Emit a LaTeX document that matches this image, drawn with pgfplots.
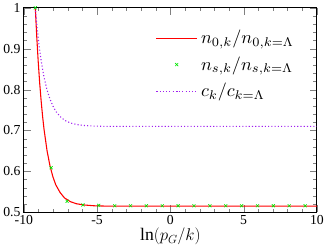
\documentclass[border=0pt]{standalone}
\usepackage{fontspec}
\setmainfont{Liberation Serif}
\usepackage{pgfplots}
\pgfplotsset{compat=1.18}
\definecolor{myviolet}{RGB}{160,32,240}
\definecolor{mygreen}{RGB}{0,230,0}
\begin{document}
\begin{tikzpicture}
\begin{axis}[
  scale only axis,
  width=298bp, height=208bp,
  xmin=-10, xmax=10, ymin=0.5, ymax=1,
  xtick={-10,-5,0,5,10},
  xticklabels={-10,-5,0,5,10},
  ytick={0.5,0.6,0.7,0.8,0.9,1},
  yticklabels={0.5,0.6,0.7,0.8,0.9,1},
  minor x tick num=4,
  minor y tick num=4,
  tick align=inside,
  major tick length=7bp,
  minor tick length=3.5bp,
  axis line style={line width=0.8pt},
  every tick label/.append style={font=\fontsize{14}{16}\selectfont},
  xlabel={$\ln(p_G/k)$},
  xlabel style={font=\fontsize{18}{20}\selectfont, yshift=4pt},
  legend style={at={(axis cs:-1.2,0.96)}, anchor=north west, draw=white, fill=none,
    row sep=3pt, nodes={scale=1.85, transform shape=false}},
  legend cell align=left,
  legend image code/.code={\draw[mark repeat=2,mark phase=2,#1] plot coordinates {(0cm,0cm) (0.725cm,0cm) (1.45cm,0cm)};},
]
\addplot[color=red, line width=1.1pt, mark=none] coordinates {
(-9.22,1.0) (-9.12,0.929) (-9.02,0.868) (-8.92,0.816) (-8.82,0.772) (-8.72,0.734)
(-8.62,0.702) (-8.42,0.651) (-8.22,0.614) (-8.02,0.587) (-7.82,0.567) (-7.52,0.548)
(-7.22,0.535) (-6.82,0.526) (-6.42,0.521) (-5.92,0.518) (-5.22,0.516) (-4.22,0.515) (10,0.515)
};
\addlegendentry{$n_{0,k}/n_{0,k=\Lambda}$}
\addplot[only marks, color=mygreen, mark=x, mark size=2.2pt, mark options={line width=0.6pt}] coordinates {
(-9.22,1.0) (-8.14,0.609) (-7.05,0.527) (-5.97,0.518) (-4.89,0.517) (-3.8,0.516)
(-2.72,0.516) (-1.64,0.516) (-0.55,0.516) (0.53,0.516) (1.61,0.516) (2.7,0.516)
(3.78,0.516) (4.86,0.516) (5.95,0.516) (7.03,0.516) (8.11,0.516) (9.2,0.516)
};
\addlegendentry{$n_{s,k}/n_{s,k=\Lambda}$}
\addplot[color=myviolet, line width=1.1pt, dash pattern=on 1.1pt off 2.2pt, mark=none] coordinates {
(-9.22,1.0) (-9.12,0.960) (-9.02,0.926) (-8.92,0.896) (-8.82,0.871) (-8.72,0.849)
(-8.62,0.830) (-8.42,0.799) (-8.22,0.777) (-8.02,0.760) (-7.82,0.747) (-7.52,0.734)
(-7.22,0.725) (-6.82,0.7185) (-6.42,0.7147) (-5.92,0.7123) (-5.22,0.7108) (-4.22,0.710) (10,0.710)
};
\addlegendentry{$c_k/c_{k=\Lambda}$}
\end{axis}
\end{tikzpicture}
\end{document}
